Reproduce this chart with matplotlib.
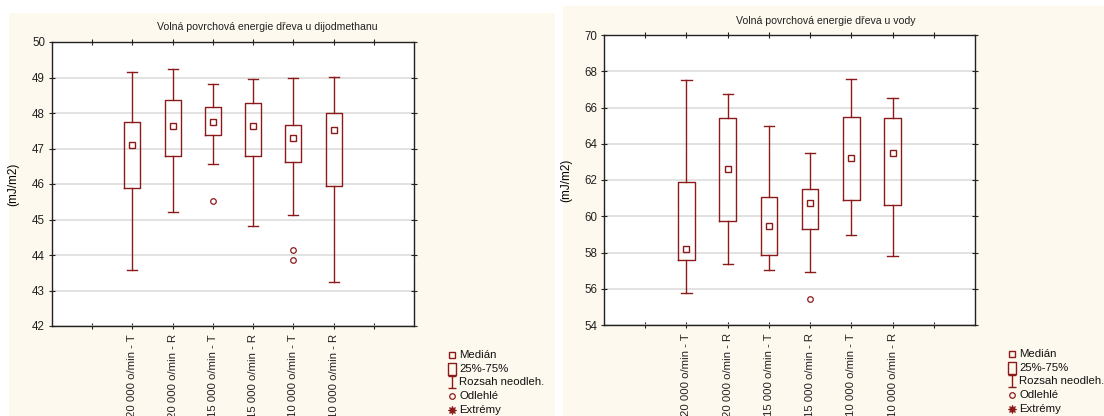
import numpy as np
import matplotlib
matplotlib.use("Agg")
import matplotlib.pyplot as plt
from matplotlib import font_manager
from matplotlib.lines import Line2D
from matplotlib.patches import Rectangle
from matplotlib.path import Path

# keep the regular (not narrow) Liberation Sans
font_manager.fontManager.ttflist = [f for f in font_manager.fontManager.ttflist
                                    if 'Narrow' not in f.fname]
plt.rcParams['font.family'] = ['Liberation Sans', 'DejaVu Sans']

groups = ['20 000 o/min - T', '20 000 o/min - R', '15 000 o/min - T',
          '15 000 o/min - R', '10 000 o/min - T', '10 000 o/min - R']

# dijodmethan (mJ/m2)
dij_med = [47.10, 47.62, 47.74, 47.64, 47.29, 47.53]
dij_q1 = [45.88, 46.80, 47.38, 46.78, 46.63, 45.93]
dij_q3 = [47.76, 48.38, 48.16, 48.28, 47.67, 48.00]
dij_lo = [43.57, 45.20, 46.56, 44.82, 45.13, 43.23]
dij_hi = [49.15, 49.24, 48.83, 48.96, 49.00, 49.01]
dij_out = [[], [], [45.52], [], [44.15, 43.86], []]

# voda (mJ/m2)
voda_med = [58.18, 62.61, 59.47, 60.74, 63.20, 63.51]
voda_q1 = [57.59, 59.72, 57.85, 59.30, 60.88, 60.64]
voda_q3 = [61.89, 65.40, 61.08, 61.51, 65.46, 65.40]
voda_lo = [55.75, 57.39, 57.02, 56.95, 58.95, 57.79]
voda_hi = [67.54, 66.73, 65.00, 63.47, 67.56, 66.53]
voda_out = [[], [], [], [55.42], [], []]

legend_labels = ['Medián', '25%-75%', 'Rozsah neodleh.', 'Odlehlé', 'Extrémy']

red = '#8B1A1A'
cream = '#FEF9EE'

fig = plt.figure(figsize=(11.04, 4.16), dpi=100, facecolor='white')
fig.add_artist(Rectangle((9 / 1104, 0), 546 / 1104, 403 / 416, transform=fig.transFigure,
                         facecolor=cream, edgecolor='none', zorder=0))
fig.add_artist(Rectangle((563 / 1104, 0), 541 / 1104, 410 / 416, transform=fig.transFigure,
                         facecolor=cream, edgecolor='none', zorder=0))

whisker_path = Path([(-0.6, -1), (0.6, -1), (0, -1), (0, 1), (-0.6, 1), (0.6, 1)],
                    [Path.MOVETO, Path.LINETO, Path.MOVETO, Path.LINETO, Path.MOVETO, Path.LINETO])
box_path = Path([(-0.6, -1), (0.6, -1), (0.6, 1), (-0.6, 1), (-0.6, -1)],
                [Path.MOVETO, Path.LINETO, Path.LINETO, Path.LINETO, Path.CLOSEPOLY])


def draw_panel(rect, med, q1, q3, lo, hi, out, ylim, ystep, title, title_xy, ylab_x, leg_xy):
    ax = fig.add_axes(rect)
    ax.set_facecolor('white')
    stats = []
    for i in range(len(med)):
        stats.append(dict(med=med[i], mean=med[i], q1=q1[i], q3=q3[i],
                          whislo=lo[i], whishi=hi[i], fliers=out[i]))
    ax.bxp(stats, positions=np.arange(2, 8), widths=0.4, showmeans=True,
           boxprops=dict(color=red, linewidth=1.0),
           whiskerprops=dict(color=red, linewidth=1.0),
           capprops=dict(color=red, linewidth=1.0),
           capwidths=0.25,
           medianprops=dict(visible=False),
           meanprops=dict(marker='s', markersize=4, markerfacecolor='white',
                          markeredgecolor=red, markeredgewidth=1.0),
           flierprops=dict(marker='o', markersize=4, markerfacecolor='none',
                           markeredgecolor=red, markeredgewidth=0.9),
           manage_ticks=False, zorder=3)
    ax.set_xlim(0, 9)
    ax.set_ylim(*ylim)
    ax.set_yticks(np.arange(ylim[0], ylim[1] + 0.01, ystep))
    ax.set_xticks(np.arange(1, 9))
    ax.set_xticklabels([''] + groups + [''], rotation=90, va='top')
    ax.tick_params(axis='both', direction='inout', length=4, width=0.8,
                   top=True, right=True, labelsize=8.3, pad=3, colors='#222222')
    ax.tick_params(axis='x', pad=4, labelsize=8.2)
    ax.grid(axis='y', color='#DDDDDD', linewidth=1.2, zorder=0)
    ax.set_axisbelow(True)
    for s in ax.spines.values():
        s.set_linewidth(1.0)
        s.set_color('#222222')
    ax.set_ylabel('(mJ/m2)', fontsize=8.5)
    ax.yaxis.set_label_coords(ylab_x, 0.5)
    fig.text(title_xy[0] / 1104, 1 - title_xy[1] / 416, title, fontsize=7.6,
             ha='center', va='center', color='#222222')

    # legend drawn beside the axes
    lx, ly = leg_xy
    handles = [dict(marker='s', markersize=4, mfc='none', mew=1.0),
               dict(marker=box_path, markersize=9, mfc='none', mew=1.0),
               dict(marker=whisker_path, markersize=9, mfc='none', mew=1.0),
               dict(marker='o', markersize=4, mfc='none', mew=0.9),
               dict(marker=(8, 1, 0), markersize=6, mfc=red, mew=0.6)]
    for k, (h, lab) in enumerate(zip(handles, legend_labels)):
        y = 1 - (ly + k * 13.7) / 416
        fig.add_artist(Line2D([lx / 1104], [y], transform=fig.transFigure,
                              color=red, linestyle='none', mec=red, **h))
        fig.text((lx + 7) / 1104, y, lab, fontsize=8.2, ha='left', va='center',
                 color='#111111')
    return ax


draw_panel([52 / 1104, 1 - 326 / 416, 362 / 1104, 284 / 416],
           dij_med, dij_q1, dij_q3, dij_lo, dij_hi, dij_out, (42, 50), 1,
           'Volná povrchová energie dřeva u dijodmethanu', (267, 27), -0.09, (452, 355))

draw_panel([604 / 1104, 1 - 325 / 416, 371 / 1104, 290 / 416],
           voda_med, voda_q1, voda_q3, voda_lo, voda_hi, voda_out, (54, 70), 2,
           'Volná povrchová energie dřeva u vody', (826, 21), -0.086, (1012, 354))

fig.savefig('out.png', dpi=100, facecolor='white')
